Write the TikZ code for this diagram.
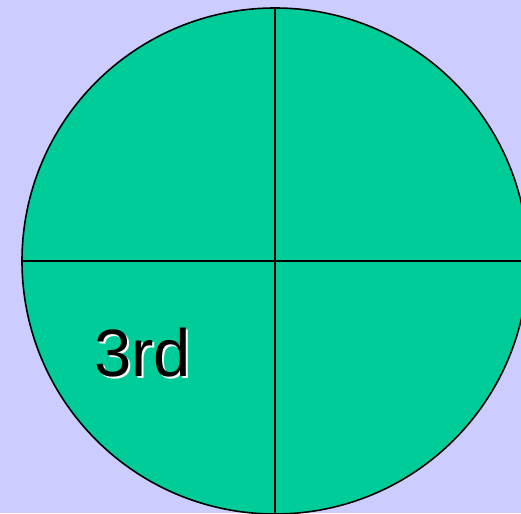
\documentclass[tikz,border=0pt]{standalone}
\usepackage{fontspec}
\setmainfont{Liberation Sans}
\definecolor{bgc}{HTML}{CCCCFF}
\definecolor{pie}{HTML}{00CC99}
\newcommand{\shadowtext}[1]{\rlap{\hspace{2pt}\raisebox{-2pt}{\textcolor{white}{#1}}}#1}
\begin{document}
\begin{tikzpicture}[x=1pt,y=-1pt,
  lbl/.style={anchor=base west,inner sep=0pt,text=black,font=\fontsize{67}{67}\selectfont}]
\useasboundingbox (0,0) rectangle (521,513);
\fill[bgc] (0,0) rectangle (521,513);
\begin{scope}
\clip (0,0) rectangle (521,513);
\coordinate (c) at (275,261);
\draw[fill=pie,line width=1.6pt] (c) circle[radius=253];
\coordinate (t) at (275,8);
\coordinate (b) at (275,514);
\coordinate (l) at (22,261);
\coordinate (r) at (528,261);
\draw[line width=1.8pt] (t) -- (b);
\draw[line width=1.8pt] (l) -- (r);
\end{scope}
\node[lbl] (n) at (94,376) {\shadowtext{3rd}};
\end{tikzpicture}
\end{document}
